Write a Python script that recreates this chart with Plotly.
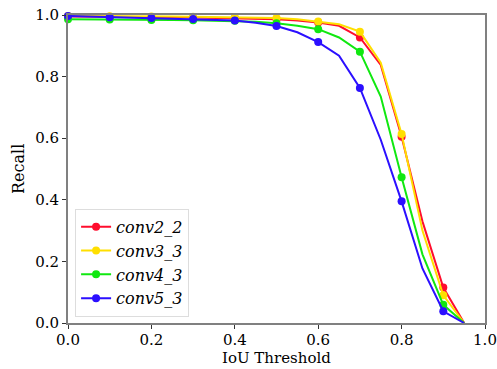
import plotly.graph_objects as go

x_vals = [0.0, 0.05, 0.1, 0.15, 0.2, 0.25, 0.3, 0.35, 0.4, 0.45, 0.5, 0.55, 0.6, 0.65, 0.7, 0.75, 0.8, 0.85, 0.9, 0.95]
marker_x = [0.0, 0.1, 0.2, 0.3, 0.4, 0.5, 0.6, 0.7, 0.8, 0.9]

series_names = ["conv2_2", "conv3_3", "conv4_3", "conv5_3"]
conv2_2 = [0.995, 0.995, 0.994, 0.994, 0.993, 0.993, 0.992, 0.991, 0.990, 0.988, 0.986, 0.982, 0.976, 0.965, 0.927, 0.838, 0.605, 0.330, 0.115, 0.0]
conv3_3 = [0.997, 0.997, 0.996, 0.996, 0.995, 0.995, 0.994, 0.993, 0.992, 0.991, 0.990, 0.986, 0.979, 0.970, 0.946, 0.845, 0.614, 0.300, 0.090, 0.0]
conv4_3 = [0.986, 0.986, 0.985, 0.985, 0.984, 0.984, 0.983, 0.982, 0.981, 0.978, 0.973, 0.965, 0.954, 0.927, 0.881, 0.735, 0.473, 0.223, 0.059, 0.0]
conv5_3 = [0.997, 0.995, 0.993, 0.991, 0.990, 0.989, 0.987, 0.985, 0.982, 0.975, 0.964, 0.944, 0.912, 0.868, 0.763, 0.595, 0.395, 0.177, 0.038, 0.0]
series_values = [conv2_2, conv3_3, conv4_3, conv5_3]
colors = ["#ff0d2d", "#ffdf00", "#10e810", "#2b0fff"]

FONT = "DejaVu Serif, serif"
fig = go.Figure()
for name, vals, col in zip(series_names, series_values, colors):
    fig.add_trace(go.Scatter(x=x_vals, y=vals, mode="lines", line=dict(color=col, width=2),
                             showlegend=False, hoverinfo="skip", cliponaxis=False))
    mx, my = [], []
    for xv, yv in zip(x_vals, vals):
        if any(abs(xv - m) < 1e-9 for m in marker_x):
            mx.append(xv)
            my.append(yv)
    fig.add_trace(go.Scatter(x=mx, y=my, mode="markers", marker=dict(color=col, size=8),
                             showlegend=False, cliponaxis=False))
    fig.add_trace(go.Scatter(x=[None], y=[None], mode="lines+markers", name=name,
                             line=dict(color=col, width=2), marker=dict(color=col, size=8)))

axis_common = dict(range=[0, 1], showgrid=False, zeroline=False, showline=True, mirror=True,
                   linecolor="#808080", linewidth=2, ticks="outside", ticklen=4, tickwidth=1,
                   tickcolor="#333333", tickformat=".1f", dtick=0.2, automargin=False,
                   ticklabeloverflow="allow",
                   tickfont=dict(family=FONT, size=15, color="black"))
fig.update_layout(
    width=497, height=369,
    margin=dict(l=68, r=12, t=15, b=46),
    paper_bgcolor="white", plot_bgcolor="white",
    xaxis=dict(axis_common, ticklabelstandoff=-2),
    yaxis=dict(axis_common),
    annotations=[
        dict(text="IoU Threshold", xref="paper", yref="paper", x=0.5, y=0, yshift=-45,
             xanchor="center", yanchor="bottom", showarrow=False, borderpad=0,
             font=dict(family=FONT, size=15, color="black")),
        dict(text="Recall", xref="paper", yref="paper", x=0, y=0.5, xshift=-50,
             xanchor="center", yanchor="middle", showarrow=False, textangle=-90,
             font=dict(family=FONT, size=16, color="black")),
    ],
    legend=dict(x=0.017, y=0.02, xanchor="left", yanchor="bottom", bgcolor="white",
                bordercolor="#dddddd", borderwidth=1,
                font=dict(family=FONT, size=16, color="black", style="italic"),
                tracegroupgap=0, itemwidth=30),
)
fig.write_html("out.html")
